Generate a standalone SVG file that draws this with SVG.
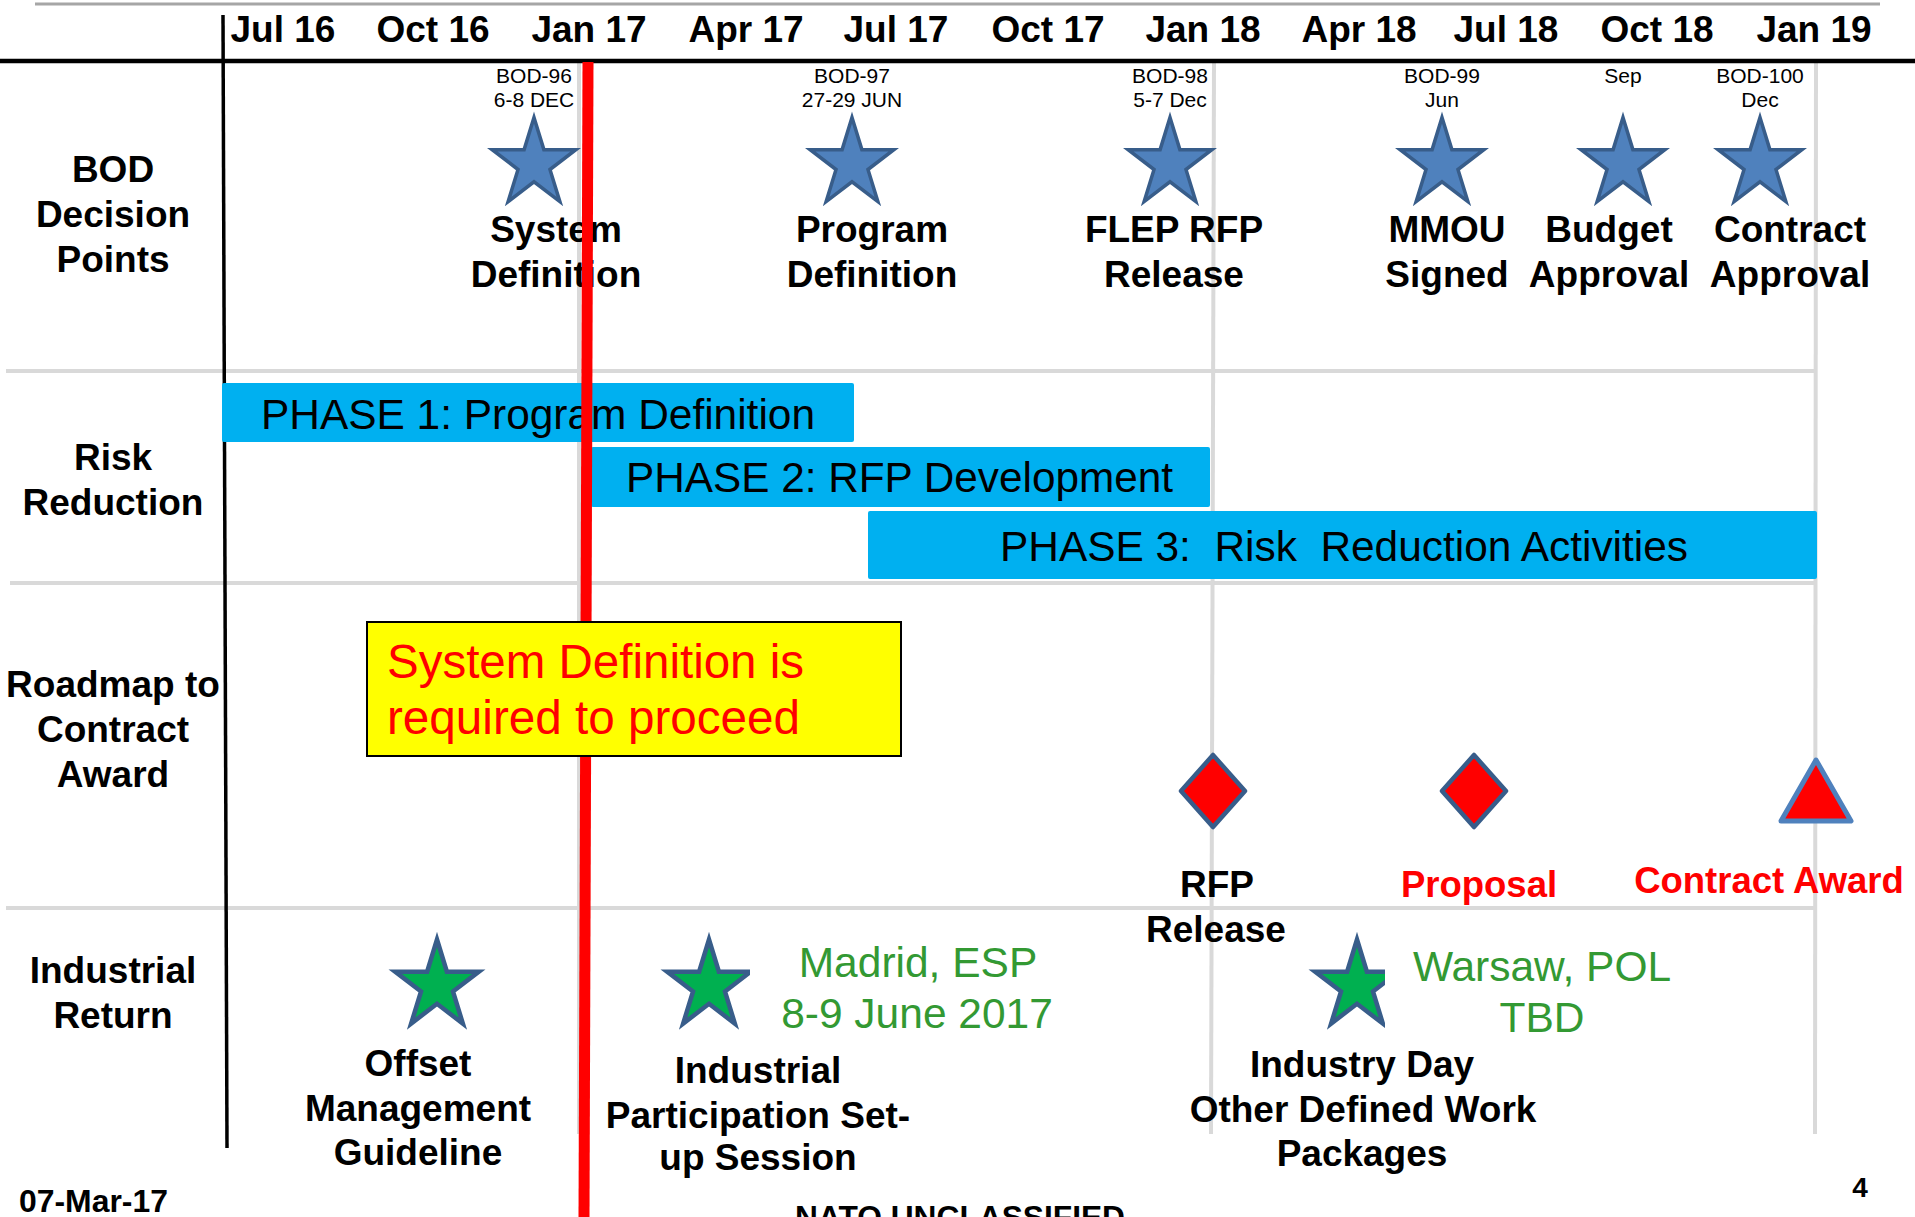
<svg xmlns="http://www.w3.org/2000/svg" width="1915" height="1217" viewBox="0 0 1915 1217">
<style>
text{font-family:"Liberation Sans",Arial,sans-serif}
.mon{font-size:37px;font-weight:bold;text-anchor:middle;fill:#000}
.row{font-size:37px;font-weight:bold;text-anchor:middle;fill:#000}
.bod{font-size:21px;text-anchor:middle;fill:#000}
.lbl{font-size:37px;font-weight:bold;text-anchor:middle;fill:#000}
.phase{font-size:42px;fill:#000;white-space:pre}
.green{font-size:42.5px;text-anchor:middle;fill:#339933}
.redb{font-size:36.5px;font-weight:bold;text-anchor:middle;fill:#ff0000}
.grid{stroke:#d9d9d9;stroke-width:4;fill:none}
.bstar{fill:#4f81bd;stroke:#385d8a;stroke-width:3.5;stroke-linejoin:miter}
.gstar{fill:#00b050;stroke:#385d8a;stroke-width:4.5}
.pbox{fill:#00b0f0}
.dia{fill:#ff0000;stroke:#385d8a;stroke-width:4.5;stroke-linejoin:round}
</style>
<defs>
<path id="star" d="M0,-46.5 L9.88,-14.37 L41.84,-14.37 L15.97,5.49 L25.87,37.62 L0,17.76 L-25.87,37.62 L-15.97,5.49 L-41.84,-14.37 L-9.88,-14.37 Z"/>
<clipPath id="clipB"><rect x="600" y="900" width="150" height="200"/></clipPath>
<clipPath id="clipC"><rect x="1250" y="900" width="135" height="200"/></clipPath>
</defs>
<rect width="1915" height="1217" fill="#fff"/>

<g id="grid">
<line x1="35" y1="4" x2="1880" y2="4" stroke="#a6a6a6" stroke-width="3"/>
<line class="grid" x1="6" y1="371" x2="1817" y2="371"/>
<line class="grid" x1="10" y1="583" x2="1817" y2="583"/>
<line class="grid" x1="6" y1="908" x2="1817" y2="908"/>
<line class="grid" x1="579" y1="61" x2="579" y2="1134"/>
<line class="grid" x1="1214" y1="61" x2="1211" y2="1134"/>
<line class="grid" x1="1816" y1="61" x2="1815" y2="1134"/>
<line x1="0" y1="61" x2="1915" y2="61" stroke="#000" stroke-width="4.5"/>
<line x1="223" y1="15" x2="227" y2="1148" stroke="#000" stroke-width="3.5"/>
</g>

<g id="header">
<text class="mon" x="283" y="42">Jul 16</text>
<text class="mon" x="433" y="42">Oct 16</text>
<text class="mon" x="589" y="42">Jan 17</text>
<text class="mon" x="746" y="42">Apr 17</text>
<text class="mon" x="896" y="42">Jul 17</text>
<text class="mon" x="1048" y="42">Oct 17</text>
<text class="mon" x="1203" y="42">Jan 18</text>
<text class="mon" x="1359" y="42">Apr 18</text>
<text class="mon" x="1506" y="42">Jul 18</text>
<text class="mon" x="1657" y="42">Oct 18</text>
<text class="mon" x="1814" y="42">Jan 19</text>
</g>

<g id="row-labels">
<text class="row" x="113" y="182">BOD</text>
<text class="row" x="113" y="227">Decision</text>
<text class="row" x="113" y="272">Points</text>
<text class="row" x="113" y="470">Risk</text>
<text class="row" x="113" y="515">Reduction</text>
<text class="row" x="113" y="697">Roadmap to</text>
<text class="row" x="113" y="742">Contract</text>
<text class="row" x="113" y="787">Award</text>
<text class="row" x="113" y="983">Industrial</text>
<text class="row" x="113" y="1028">Return</text>
</g>

<g id="bod96">
<text class="bod" x="534" y="83">BOD-96</text>
<text class="bod" x="534" y="107">6-8 DEC</text>
<use href="#star" class="bstar" x="534" y="164"/>
<text class="lbl" x="556" y="242">System</text>
<text class="lbl" x="556" y="287">Definition</text>
</g>
<g id="bod97">
<text class="bod" x="852" y="83">BOD-97</text>
<text class="bod" x="852" y="107">27-29 JUN</text>
<use href="#star" class="bstar" x="852" y="164"/>
<text class="lbl" x="872" y="242">Program</text>
<text class="lbl" x="872" y="287">Definition</text>
</g>
<g id="bod98">
<text class="bod" x="1170" y="83">BOD-98</text>
<text class="bod" x="1170" y="107">5-7 Dec</text>
<use href="#star" class="bstar" x="1170" y="164"/>
<text class="lbl" x="1174" y="242">FLEP RFP</text>
<text class="lbl" x="1174" y="287">Release</text>
</g>
<g id="bod99">
<text class="bod" x="1442" y="83">BOD-99</text>
<text class="bod" x="1442" y="107">Jun</text>
<use href="#star" class="bstar" x="1442" y="164"/>
<text class="lbl" x="1447" y="242">MMOU</text>
<text class="lbl" x="1447" y="287">Signed</text>
</g>
<g id="budget">
<text class="bod" x="1623" y="83">Sep</text>
<use href="#star" class="bstar" x="1623" y="164"/>
<text class="lbl" x="1609" y="242">Budget</text>
<text class="lbl" x="1609" y="287">Approval</text>
</g>
<g id="bod100">
<text class="bod" x="1760" y="83">BOD-100</text>
<text class="bod" x="1760" y="107">Dec</text>
<use href="#star" class="bstar" x="1760" y="164"/>
<text class="lbl" x="1790" y="242">Contract</text>
<text class="lbl" x="1790" y="287">Approval</text>
</g>

<g id="phase1">
<rect class="pbox" x="222" y="383" width="632" height="59" rx="2"/>
<text class="phase" x="261" y="429" textLength="554" lengthAdjust="spacingAndGlyphs">PHASE 1: Program Definition</text>
</g>
<g id="phase2">
<rect class="pbox" x="591" y="447" width="619" height="60" rx="2"/>
<text class="phase" x="626" y="492" textLength="547" lengthAdjust="spacingAndGlyphs">PHASE 2: RFP Development</text>
</g>
<g id="phase3">
<rect class="pbox" x="868" y="511" width="949" height="68" rx="2"/>
<text class="phase" x="1000" y="561" textLength="688" lengthAdjust="spacingAndGlyphs">PHASE 3:  Risk  Reduction Activities</text>
</g>

<g id="today-line">
<line x1="588" y1="62" x2="584" y2="1217" stroke="#ff0000" stroke-width="11"/>
</g>

<g id="note">
<rect x="367" y="622" width="534" height="134" fill="#ffff00" stroke="#000" stroke-width="2"/>
<text x="387" y="678" font-size="47.5" fill="#ff0000" textLength="417" lengthAdjust="spacingAndGlyphs">System Definition is</text>
<text x="387" y="734" font-size="47.5" fill="#ff0000" textLength="413" lengthAdjust="spacingAndGlyphs">required to proceed</text>
</g>

<g id="rfp-release">
<polygon class="dia" points="1213,755 1245,791 1213,827 1181,791"/>
<text class="lbl" x="1217" y="897">RFP</text>
<text class="lbl" x="1216" y="942">Release</text>
</g>
<g id="proposal">
<polygon class="dia" points="1474,755 1506,791 1474,827 1442,791"/>
<text class="redb" x="1479" y="897">Proposal</text>
</g>
<g id="contract-award">
<polygon points="1816,760 1851,821 1781,821" fill="#ff0000" stroke="#4f81bd" stroke-width="5" stroke-linejoin="round"/>
<text class="redb" x="1769" y="893">Contract Award</text>
</g>

<g id="offset">
<use href="#star" class="gstar" x="437" y="986"/>
<text class="lbl" x="418" y="1076">Offset</text>
<text class="lbl" x="418" y="1121">Management</text>
<text class="lbl" x="418" y="1165">Guideline</text>
</g>
<g id="madrid">
<g clip-path="url(#clipB)"><use href="#star" class="gstar" x="709" y="986"/></g>
<text class="green" x="918" y="977">Madrid, ESP</text>
<text class="green" x="917" y="1028">8-9 June 2017</text>
<text class="lbl" x="758" y="1083">Industrial</text>
<text class="lbl" x="758" y="1128">Participation Set-</text>
<text class="lbl" x="758" y="1170">up Session</text>
</g>
<g id="warsaw">
<g clip-path="url(#clipC)"><use href="#star" class="gstar" x="1357" y="986"/></g>
<text class="green" x="1542" y="981">Warsaw, POL</text>
<text class="green" x="1542" y="1032">TBD</text>
<text class="lbl" x="1362" y="1077">Industry Day</text>
<text class="lbl" x="1363" y="1122">Other Defined Work</text>
<text class="lbl" x="1362" y="1166">Packages</text>
</g>

<g id="connectors"></g>

<g id="footer">
<text x="19" y="1212" font-size="31" font-weight="bold" textLength="149" lengthAdjust="spacingAndGlyphs">07-Mar-17</text>
<text x="795" y="1228" font-size="31" font-weight="bold" textLength="330" lengthAdjust="spacingAndGlyphs">NATO UNCLASSIFIED</text>
<text x="1860" y="1197" font-size="28" font-weight="bold" text-anchor="middle">4</text>
</g>
</svg>
